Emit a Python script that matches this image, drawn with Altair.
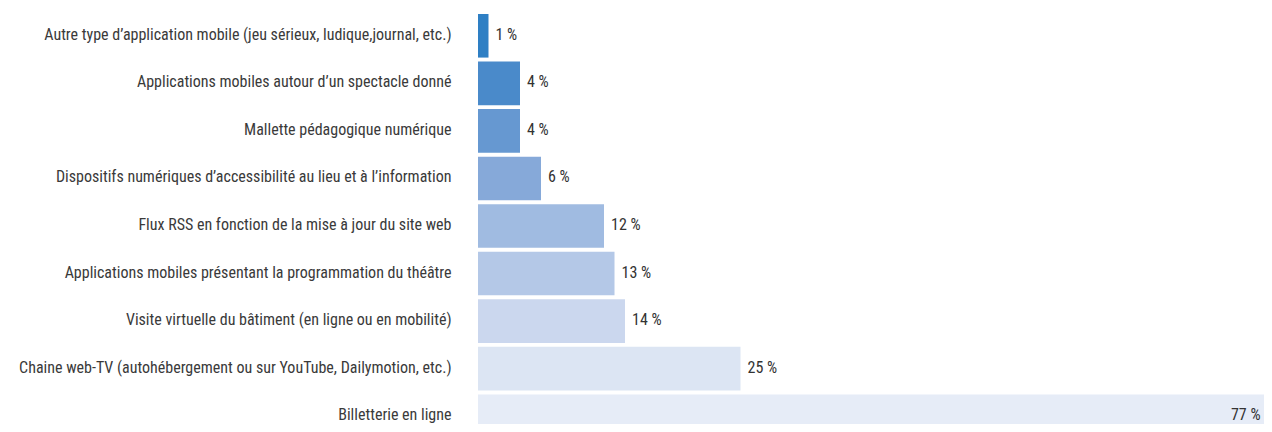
import altair as alt
import pandas as pd

categories = [
    "Autre type d’application mobile (jeu sérieux, ludique,journal, etc.)",
    "Applications mobiles autour d’un spectacle donné",
    "Mallette pédagogique numérique",
    "Dispositifs numériques d’accessibilité au lieu et à l’information",
    "Flux RSS en fonction de la mise à jour du site web",
    "Applications mobiles présentant la programmation du théâtre",
    "Visite virtuelle du bâtiment (en ligne ou en mobilité)",
    "Chaine web-TV (autohébergement ou sur YouTube, Dailymotion, etc.)",
    "Billetterie en ligne",
]
values = [1, 4, 4, 6, 12, 13, 14, 25, 77]
colors = ["#2e7fc4", "#4a8aca", "#6698d1", "#86a9d9", "#a0bbe1",
          "#b4c8e7", "#cbd7ee", "#dce5f3", "#e6ecf7"]

df = pd.DataFrame({"cat": categories, "val": values, "color": colors})
df["label"] = df["val"].astype(str) + " %"
df["inside"] = df["val"] > 50

FONT = "Roboto Condensed, DejaVu Sans Condensed, Liberation Sans Narrow, Roboto, sans-serif"
FS = 16

y = alt.Y("cat:N", sort=categories, title=None,
          scale=alt.Scale(paddingInner=0.0833, paddingOuter=0.0417, range=[0, 428]),
          axis=alt.Axis(ticks=False, domain=False, labelPadding=27, labelLimit=0,
                        labelOffset=-1,
                        labelFontSize=FS, labelColor="#3a3a3a", labelFont=FONT))
x = alt.X("val:Q", title=None, axis=None,
          scale=alt.Scale(domain=[0, 77], nice=False, zero=True, range=[0, 808.5]))

base = alt.Chart(df)
bars = base.mark_bar().encode(x=x, y=y, color=alt.Color("color:N", scale=None))
out_labels = base.transform_filter("!datum.inside").mark_text(
    align="left", dx=7, dy=-1, fontSize=FS, font=FONT, color="#333333"
).encode(x=x, y=y, text="label:N")
in_labels = base.transform_filter("datum.inside").mark_text(
    align="right", dx=-26, dy=-1, fontSize=FS, font=FONT, color="#333333"
).encode(x=x, y=y, text="label:N")

chart = alt.layer(bars, out_labels, in_labels).properties(
    width=786, height=412,
    autosize=alt.AutoSizeParams(type="none"),
    padding={"left": 470, "top": 4, "right": 0, "bottom": 0},
).configure_view(stroke=None)

chart.save("out.html", embed_options={"renderer": "svg", "actions": False})
